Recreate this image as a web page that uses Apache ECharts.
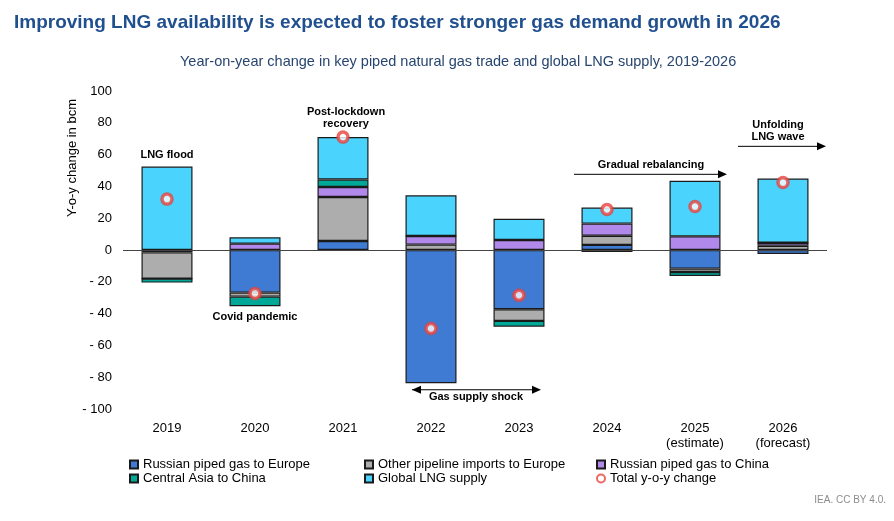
<!DOCTYPE html>
<html>
<head>
<meta charset="utf-8">
<script src="https://cdn.jsdelivr.net/npm/echarts@6/dist/echarts.min.js"></script>
<style>
  html, body { margin: 0; padding: 0; background: #fff; }
  #chart { width: 894px; height: 521px; }
</style>
</head>
<body>
<div id="chart"></div>
<script>
var years = ['2019', '2020', '2021', '2022', '2023', '2024', '2025\n(estimate)', '2026\n(forecast)'];
var yTicks = [-100, 100, 20];

var russiaEurope = [-1.5, -26.8, 5.7, -83.8, -37.3, 3.2, -11.7, -2.5];
var otherPipeline = [-16.5, -2.5, 27.6, 3.4, -7.3, 5.8, -2.1, 2.7];
var russiaChina = [0, 4, 6.3, 5.4, 6.3, 7.6, 8.6, 1.9];
var centralAsia = [-2.5, -6, 4.7, 0, -3.6, -1.2, -2.5, 0];
var lngSupply = [52.5, 4, 26.7, 25.6, 13.4, 10.1, 35, 40.3];
var totalChange = [32, -27.3, 71, -49.4, -28.5, 25.5, 27.3, 42.4];

var seriesNames = ['Russian piped gas to Europe', 'Other pipeline imports to Europe', 'Russian piped gas to China',
    'Central Asia to China', 'Global LNG supply', 'Total y-o-y change'];
var colors = ['#3f7bd2', '#adadad', '#b089ea', '#00a898', '#49d3fd'];

var font = '"Liberation Sans", Arial, sans-serif';
var chart = echarts.init(document.getElementById('chart'));

function barSeries(i, data) {
    return {
        name: seriesNames[i],
        type: 'bar',
        stack: 'gas',
        barWidth: 51,
        data: data,
        itemStyle: { color: colors[i], borderColor: '#1a1a1a', borderWidth: 1.2 },
        emphasis: { disabled: true }
    };
}

var legendText = { fontFamily: font, fontSize: 13, color: '#000' };
function legendCol(left, names) {
    return {
        left: left, top: 453, orient: 'vertical', itemGap: 1,
        itemWidth: 8, itemHeight: 8, icon: 'rect', selectedMode: false,
        textStyle: legendText, data: names
    };
}

var option = {
    animation: false,
    title: [{
        text: 'Improving LNG availability is expected to foster stronger gas demand growth in 2026',
        left: 9, top: 8,
        textStyle: { fontFamily: font, fontSize: 19, fontWeight: 'bold', color: '#21508f' }
    }, {
        text: 'Year-on-year change in key piped natural gas trade and global LNG supply, 2019-2026',
        left: 175, top: 49,
        textStyle: { fontFamily: font, fontSize: 14.5, fontWeight: 'normal', color: '#27456f' }
    }],
    legend: [
        legendCol(124, [seriesNames[0], seriesNames[3]]),
        legendCol(359, [seriesNames[1], seriesNames[4]]),
        legendCol(591, [seriesNames[2], { name: seriesNames[5], icon: 'circle' }])
    ],
    grid: { left: 123, right: 67, top: 91, bottom: 112 },
    xAxis: {
        type: 'category',
        data: years,
        axisLine: { show: false },
        axisTick: { show: false },
        axisLabel: { fontFamily: font, fontSize: 13, color: '#000', margin: 12, lineHeight: 15 }
    },
    yAxis: {
        type: 'value',
        min: yTicks[0], max: yTicks[1], interval: yTicks[2],
        splitLine: { show: false },
        axisLine: { show: false },
        axisTick: { show: false },
        axisLabel: {
            fontFamily: font, fontSize: 13, color: '#000', margin: 11,
            formatter: function (v) { return v < 0 ? '- ' + Math.abs(v) : String(v); }
        }
    },
    series: [
        barSeries(0, russiaEurope),
        barSeries(1, otherPipeline),
        barSeries(2, russiaChina),
        barSeries(3, centralAsia),
        (function () {
            var s = barSeries(4, lngSupply);
            s.markLine = {
                silent: true, symbol: 'none', label: { show: false },
                lineStyle: { color: '#444', width: 1, type: 'solid' },
                data: [{ yAxis: 0 }]
            };
            return s;
        })(),
        {
            name: seriesNames[5],
            type: 'scatter',
            data: totalChange,
            symbol: 'circle',
            symbolSize: 10,
            z: 5,
            itemStyle: { color: '#fff', borderColor: '#e6423d', borderWidth: 3.5 },
            emphasis: { disabled: true }
        }
    ]
};
chart.setOption(option);

// annotations: [text, category index, x offset px, value]
var notes = [
    ['LNG flood', 0, 0, 59.6],
    ['Covid pandemic', 1, 0, -42.3],
    ['Post-lockdown\nrecovery', 2, 3, 83.3],
    ['Gas supply shock', 3, 45, -92.6],
    ['Gradual rebalancing', 5, 44, 53.4],
    ['Unfolding\nLNG wave', 7, -5, 74.6]
];
// arrows: [from index, from offset, to index, to offset, value, double headed]
var arrows = [
    [3, -19, 4, 22, -87.9, true],
    [5, -33, 6, 32, 47.6, false],
    [7, -45, 7, 43, 65.2, false]
];

function px(i, v) {
    return chart.convertToPixel({ xAxisIndex: 0, yAxisIndex: 0 }, [i, v]);
}

function head(x, y, dir) {
    return {
        type: 'polygon', silent: true,
        shape: { points: [[x, y], [x - dir * 9, y - 4], [x - dir * 9, y + 4]] },
        style: { fill: '#000' }
    };
}

var graphics = [];
notes.forEach(function (n) {
    var p = px(n[1], n[3]);
    graphics.push({
        type: 'text', silent: true, x: p[0] + n[2], y: p[1],
        style: {
            text: n[0], fontFamily: font, fontSize: 11, fontWeight: 'bold', fill: '#000',
            align: 'center', verticalAlign: 'middle', lineHeight: 12
        }
    });
});
arrows.forEach(function (a) {
    var p1 = px(a[0], a[4]);
    var p2 = px(a[2], a[4]);
    var x1 = p1[0] + a[1], x2 = p2[0] + a[3], y = p1[1];
    graphics.push({
        type: 'line', silent: true,
        shape: { x1: x1, y1: y, x2: x2 - 6, y2: y },
        style: { stroke: '#000', lineWidth: 1 }
    });
    graphics.push(head(x2, y, 1));
    if (a[5]) graphics.push(head(x1, y, -1));
});
graphics.push({
    type: 'text', silent: true, x: 72, y: 158, rotation: Math.PI / 2,
    style: { text: 'Y-o-y change in bcm', fontFamily: font, fontSize: 13, fill: '#000', align: 'center', verticalAlign: 'middle' }
});
graphics.push({
    type: 'text', silent: true, x: 886, y: 500,
    style: { text: 'IEA. CC BY 4.0.', fontFamily: font, fontSize: 10, fill: '#8c8c8c', align: 'right', verticalAlign: 'middle' }
});
chart.setOption({ graphic: graphics });
</script>
</body>
</html>
